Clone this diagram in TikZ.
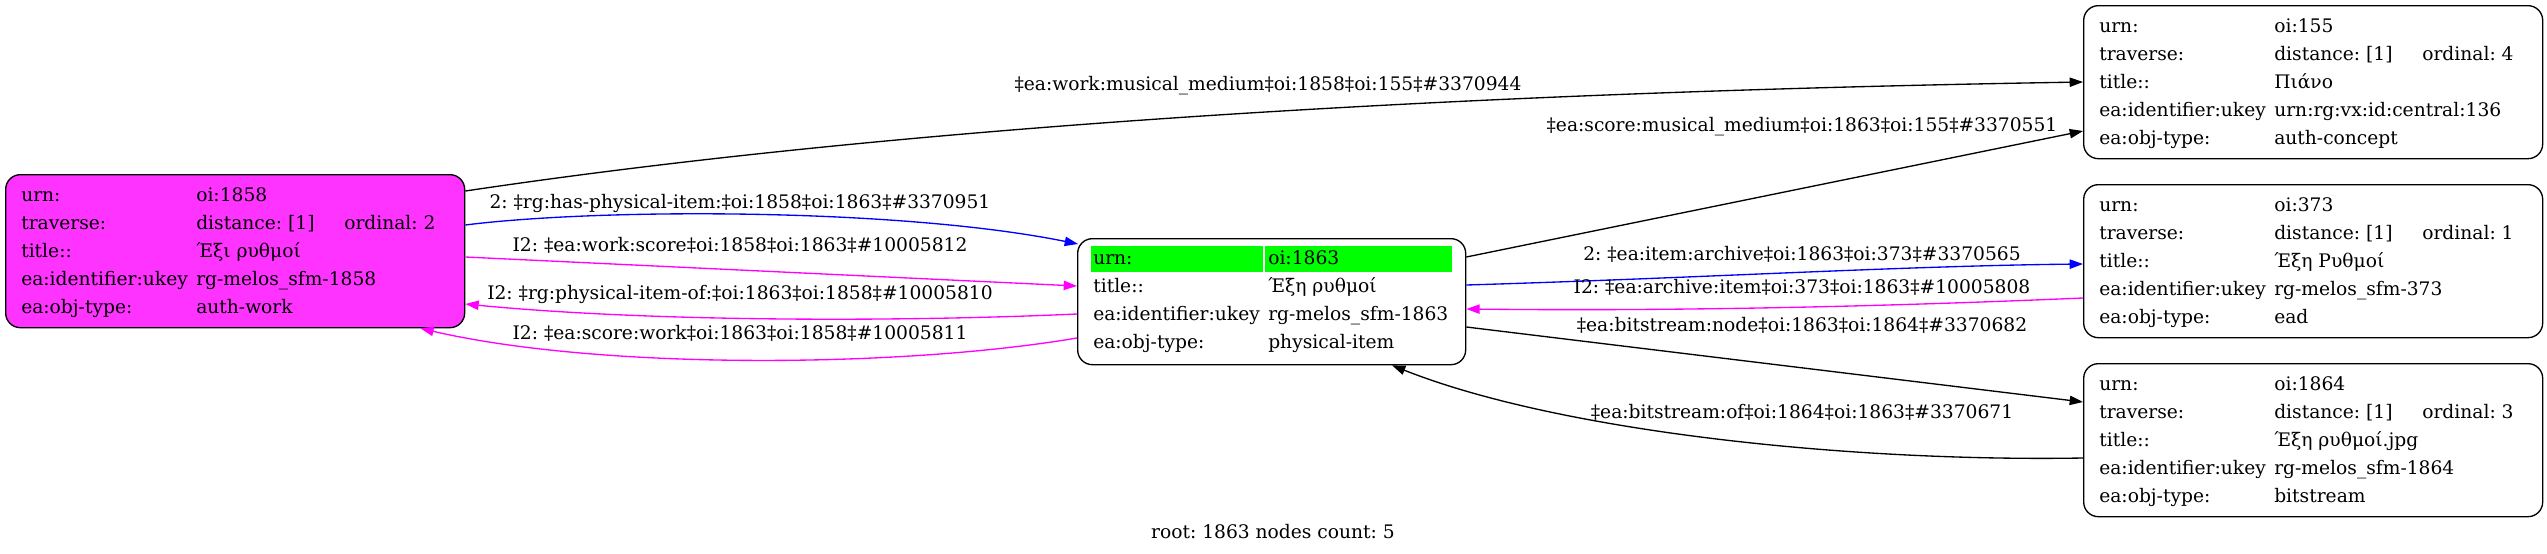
\documentclass[tikz,border=0pt]{standalone}
\usepackage{fontspec}
\setmainfont{DejaVu Serif}
\usetikzlibrary{calc,arrows.meta}
\definecolor{workpink}{RGB}{255,51,255}
\definecolor{invlink}{RGB}{255,0,255}
\definecolor{fwdlink}{RGB}{0,0,255}
\definecolor{rootgreen}{RGB}{0,255,0}
\frenchspacing
\tikzset{
  objbox/.style={draw, line width=1pt, rounded corners=11pt, inner sep=0pt,
    anchor=north west, minimum width=344.25pt, minimum height=114.75pt},
  field/.style={anchor=base west, inner sep=0pt},
  elab/.style={anchor=base, inner sep=0pt},
  link/.style={line width=1pt, -{Triangle[length=10pt,width=7pt]}},
}
% one key/value row per line of an object box
\newcommand{\objfields}[3]{%
  \foreach \fkey/\fval [count=\n] in {#3} {
    \node[field] (#1-k\n) at ($(#1.north west)+(16,#2+28*\n-28)$) {\fkey};
    \node[field] (#1-v\n) at ($(#1.north west)+(191,#2+28*\n-28)$) {\fval};
  }%
}
\begin{document}
\begin{tikzpicture}[x=0.75pt, y=-0.75pt, font=\fontsize{14pt}{17pt}\selectfont]
\useasboundingbox (0,0) rectangle (2547,553);
% object boxes
\node[objbox, fill=workpink] (o1858) at (5,174) {};
\node[objbox, minimum width=291pt, minimum height=94.5pt] (o1863) at (1077,238) {};
\node[objbox] (o155) at (2083,5) {};
\node[objbox] (o373) at (2083,184) {};
\node[objbox] (o1864) at (2083,363) {};
% root row
\fill[rootgreen] ($(o1863.north west)+(14,8)$) rectangle ($(o1863.north west)+(186,34)$);
\fill[rootgreen] ($(o1863.north west)+(188,8)$) rectangle ($(o1863.north west)+(375,34)$);
% fields
\objfields{o1858}{27}{urn:/oi:1858, traverse:/{distance: [1]}, title::/Έξι ρυθμοί,
  ea:identifier:ukey/rg-melos\_sfm-1858, ea:obj-type:/auth-work}
\objfields{o1863}{26}{urn:/oi:1863, title::/Έξη ρυθμοί,
  ea:identifier:ukey/rg-melos\_sfm-1863, ea:obj-type:/physical-item}
\objfields{o155}{27}{urn:/oi:155, traverse:/{distance: [1]}, title::/Πιάνο,
  ea:identifier:ukey/urn:rg:vx:id:central:136, ea:obj-type:/auth-concept}
\objfields{o373}{27}{urn:/oi:373, traverse:/{distance: [1]}, title::/Έξη Ρυθμοί,
  ea:identifier:ukey/rg-melos\_sfm-373, ea:obj-type:/ead}
\objfields{o1864}{27}{urn:/oi:1864, traverse:/{distance: [1]}, title::/Έξη ρυθμοί.jpg,
  ea:identifier:ukey/rg-melos\_sfm-1864, ea:obj-type:/bitstream}
\node[field] (o1858-ord) at ($(o1858.north west)+(339,55)$) {ordinal: 2};
\node[field] (o155-ord) at ($(o155.north west)+(339,55)$) {ordinal: 4};
\node[field] (o373-ord) at ($(o373.north west)+(339,55)$) {ordinal: 1};
\node[field] (o1864-ord) at ($(o1864.north west)+(339,55)$) {ordinal: 3};
% links
\draw[link] ($(o1858.north east)+(0,17)$) .. controls (914,124) and (1482,92) .. ($(o155.north west)+(0,77)$);
\draw[link, fwdlink] ($(o1858.north east)+(0,51)$) .. controls (600,208) and (900,208) .. ($(o1863.north west)+(1,6)$);
\draw[link, invlink] ($(o1858.north east)+(0,83)$) -- ($(o1863.north west)+(0,48)$);
\draw[link, invlink] ($(o1863.north west)+(0,76)$) .. controls (900,322) and (650,322) .. ($(o1858.north east)+(0,130)$);
\draw[link, invlink] ($(o1863.north west)+(0,100)$) .. controls (900,368) and (600,370) .. ($(o1858.south east)+(-45,0)$);
\draw[link] ($(o1863.north east)+(0,19)$) -- ($(o155.north west)+(0,126)$);
\draw[link, fwdlink] ($(o1863.north east)+(0,47)$) .. controls (1700,278) and (1900,266) .. ($(o373.north west)+(0,80)$);
\draw[link, invlink] ($(o373.north west)+(0,114)$) .. controls (1850,308) and (1650,311) .. ($(o1863.north east)+(0,71)$);
\draw[link] ($(o1863.north east)+(0,89)$) -- ($(o1864.north west)+(0,39)$);
\draw[link] ($(o1864.north west)+(0,95)$) .. controls (1850,462) and (1560,432) .. ($(o1863.south west)+(315,0)$);
% link labels
\node[elab] (lab1) at (1268,90) {‡ea:work:musical\_medium‡oi:1858‡oi:155‡\#3370944};
\node[elab] (lab2) at (740,208) {2: ‡rg:has-physical-item:‡oi:1858‡oi:1863‡\#3370951};
\node[elab] (lab3) at (740,251) {I2: ‡ea:work:score‡oi:1858‡oi:1863‡\#10005812};
\node[elab] (lab4) at (740,299) {I2: ‡rg:physical-item-of:‡oi:1863‡oi:1858‡\#10005810};
\node[elab] (lab5) at (740,339) {I2: ‡ea:score:work‡oi:1863‡oi:1858‡\#10005811};
\node[elab] (lab6) at (1802,131) {‡ea:score:musical\_medium‡oi:1863‡oi:155‡\#3370551};
\node[elab] (lab7) at (1802,260) {2: ‡ea:item:archive‡oi:1863‡oi:373‡\#3370565};
\node[elab] (lab8) at (1802,293) {I2: ‡ea:archive:item‡oi:373‡oi:1863‡\#10005808};
\node[elab] (lab9) at (1802,331) {‡ea:bitstream:node‡oi:1863‡oi:1864‡\#3370682};
\node[elab] (lab10) at (1802,418) {‡ea:bitstream:of‡oi:1864‡oi:1863‡\#3370671};
\node[elab] (caption) at (1273,538) {root: 1863 nodes count: 5};
\end{tikzpicture}
\end{document}
